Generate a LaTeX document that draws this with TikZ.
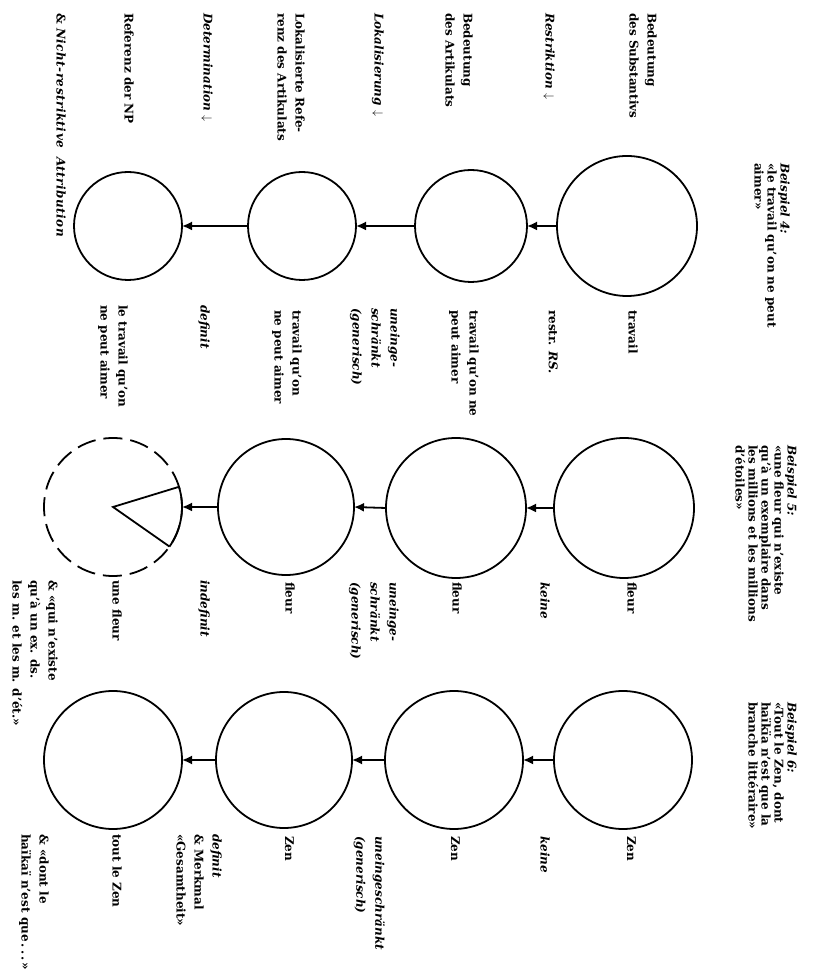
\documentclass[tikz,border=0pt]{standalone}
\usepackage{fontspec}
\setmainfont{DejaVu Serif}
\usetikzlibrary{arrows.meta}
\begin{document}
\begin{tikzpicture}[x=1pt,y=1pt,
  circ/.style={draw, circle, line width=1.8pt, inner sep=0pt, outer sep=0pt},
  arr/.style={line width=1.8pt, -{Latex[length=10pt,width=9pt]}},
  lbl/.style={rotate=-90, anchor=north west, inner sep=0pt, align=left, font=\fontsize{12}{18}\selectfont\bfseries},
  ilbl/.style={lbl, font=\fontsize{12}{19}\selectfont\bfseries\itshape},
  hdr/.style={rotate=-90, anchor=north west, inner sep=0pt, align=left, font=\fontsize{12}{13}\selectfont\bfseries},
]
\useasboundingbox (0,0) rectangle (815,980);

% row headers
\node[lbl] (r1) at (657,967) {Bedeutung\\des Substantivs};
\node[lbl] (r2) at (555,967) {\textit{Restriktion} $\downarrow$};
\node[lbl] (r3) at (473,967) {Bedeutung\\des Artikulats};
\node[lbl] (r4) at (384,967) {\textit{Lokalisierung} $\downarrow$};
\node[lbl] (r5) at (305,967) {Lokalisierte Refe-\\renz des Artikulats};
\node[lbl] (r6) at (213,967) {\textit{Determination} $\downarrow$};
\node[lbl] (r7) at (134,967) {Referenz der NP};
\node[lbl] (r8) at (66,967) {\& {\itshape\addfontfeature{LetterSpace=4}Nicht-restriktive\hspace{9pt}Attribution}};

% column headers
\node[hdr] (h1) at (790,817) {\textit{Beispiel 4:}\\«le travail qu'on ne peut\\aimer»};
\node[hdr] (h2) at (797,535) {\textit{Beispiel 5:}\\«une fleur qui n'existe\\qu'à un exemplaire dans\\les millions et les millions\\d'étoiles»};
\node[hdr] (h3) at (797,278) {\textit{Beispiel 6:}\\«Tout le Zen, dont\\haïkïa n'est que la\\branche littéraire»};

% circles, column 1
\node[circ, minimum size=140pt] (c11) at (627,754) {};
\node[circ, minimum size=112pt] (c12) at (471,754) {};
\node[circ, minimum size=108pt] (c13) at (302,754) {};
\node[circ, minimum size=108pt] (c14) at (128,754) {};
% column 2
\node[circ, minimum size=140pt] (c21) at (624,472) {};
\node[circ, minimum size=140pt] (c22) at (456,472) {};
\node[circ, minimum size=136pt] (c23) at (286,473) {};
\node[circ, minimum size=138pt, dash pattern=on 19pt off 8pt, dash phase=9pt] (c24) at (113,473) {};
% column 3
\node[circ, minimum size=138pt] (c31) at (623,220) {};
\node[circ, minimum size=138pt] (c32) at (454,220) {};
\node[circ, minimum size=136pt] (c33) at (284,220) {};
\node[circ, minimum size=138pt] (c34) at (113,220) {};

% arrows
\draw[arr] (c11.west) -- (c12.east);
\draw[arr] (c12.west) -- (c13.east);
\draw[arr] (c13.west) -- (c14.east);
\draw[arr] (c21.west) -- (c22.east);
\draw[arr] (c22.west) -- (c23.east);
\draw[arr] (c23.west) -- (c24.east);
\draw[arr] (c31.west) -- (c32.east);
\draw[arr] (c32.west) -- (c33.east);
\draw[arr] (c33.west) -- (c34.east);

% pie slice in the dashed circle
\draw[line width=1.8pt] (c24.17) -- (c24.center) -- (c24.-35);
\draw[line width=1.8pt] (c24.-35) arc[start angle=-35, end angle=17, radius=69pt];

% labels column 1
\node[lbl] (l11) at (638,670) {travail};
\node[lbl] (l12) at (558,670) {restr. \textit{RS.}};
\node[lbl] (l13) at (479,670) {travail qu'on ne\\peut aimer};
\node[ilbl] (l14) at (400,672) {uneinge-\\schränkt\\(generisch)};
\node[lbl] (l15) at (302,670) {travail qu'on\\ne peut aimer};
\node[ilbl] (l16) at (210,675) {definit};
\node[lbl] (l17) at (128,675) {le travail qu'on\\ne peut aimer};

% labels column 2
\node[lbl] (l21) at (637,398) {fleur};
\node[ilbl] (l22) at (550,398) {keine};
\node[lbl] (l23) at (462,398) {fleur};
\node[ilbl] (l24) at (399,398) {uneinge-\\schränkt\\(generisch)};
\node[lbl] (l25) at (295,398) {fleur};
\node[ilbl] (l26) at (210,400) {indefinit};
\node[lbl] (l27) at (122,400) {une fleur};
\node[lbl] (l28) at (58,400) {\& «qui n'existe\\qu'à un ex. ds.\\les m. et les m. d'ét.»};

% labels column 3
\node[lbl] (l31) at (636,144) {Zen};
\node[ilbl] (l32) at (550,144) {keine};
\node[lbl] (l33) at (460,144) {Zen};
\node[ilbl] (l34) at (385,144) {uneingeschränkt\\(generisch)};
\node[lbl] (l35) at (294,144) {Zen};
\node[lbl] (l36) at (222,146) {\textit{definit}\\\& Merkmal\\«Gesamtheit»};
\node[lbl] (l37) at (122,146) {tout le Zen};
\node[lbl] (l38) at (49,146) {\& «dont le\\haïkaï n'est que\,.\,.\,.\,»};
\end{tikzpicture}
\end{document}
